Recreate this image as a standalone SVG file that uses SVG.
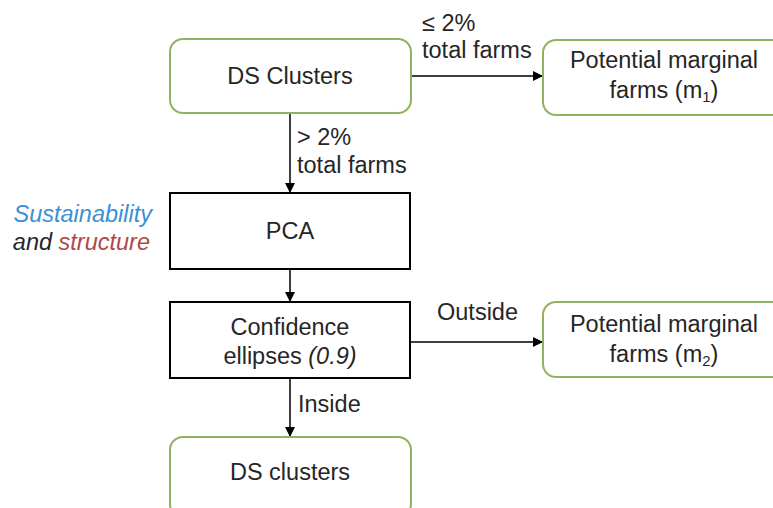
<svg xmlns="http://www.w3.org/2000/svg" width="773" height="508" viewBox="0 0 773 508">
<style>
.t{font-family:"Liberation Sans",Arial,sans-serif;font-size:23.5px;fill:#262626}
.c{text-anchor:middle}
.g{fill:#fff;stroke:#8fb35c;stroke-width:2}
.b{fill:#fff;stroke:#000;stroke-width:2}
.l{stroke:#000;stroke-width:1.5;fill:none}
</style>
<defs>
<marker id="ah" markerWidth="10" markerHeight="10" refX="9" refY="5" orient="auto" markerUnits="userSpaceOnUse">
<path d="M0,0 L10,5 L0,10 Z" fill="#000"/>
</marker>
</defs>
<rect width="773" height="508" fill="#fff"/>
<g id="connectors">
<line class="l" x1="411" y1="76" x2="542" y2="76" marker-end="url(#ah)"/>
<line class="l" x1="290" y1="113" x2="290" y2="192" marker-end="url(#ah)"/>
<line class="l" x1="290" y1="269" x2="290" y2="301" marker-end="url(#ah)"/>
<line class="l" x1="410" y1="342" x2="542" y2="342" marker-end="url(#ah)"/>
<line class="l" x1="290" y1="378" x2="290" y2="436" marker-end="url(#ah)"/>
<text class="t" x="422" y="31">≤ 2%</text>
<text class="t" x="422" y="58">total farms</text>
<text class="t" x="297" y="145">&gt; 2%</text>
<text class="t" x="297" y="173">total farms</text>
<text class="t" x="437" y="320">Outside</text>
<text class="t" x="298" y="412">Inside</text>
</g>
<g id="ds-clusters-top">
<rect class="g" x="170" y="39" width="241" height="74" rx="13"/>
<text class="t c" x="290" y="84">DS Clusters</text>
</g>
<g id="marginal-m1">
<rect class="g" x="543" y="40" width="245" height="75" rx="13"/>
<text class="t c" x="664" y="68">Potential marginal</text>
<text class="t c" x="664" y="98">farms (m<tspan font-size="15" dy="4">1</tspan><tspan dy="-4">)</tspan></text>
</g>
<g id="side-label">
<text class="t" x="152" y="222" text-anchor="end" font-style="italic" style="fill:#3b8fd5">Sustainability</text>
<text class="t" x="150" y="250" text-anchor="end" font-style="italic">and <tspan style="fill:#b04848">structure</tspan></text>
</g>
<g id="pca">
<rect class="b" x="170" y="193" width="240" height="76"/>
<text class="t c" x="290" y="239">PCA</text>
</g>
<g id="confidence">
<rect class="b" x="170" y="302" width="240" height="76"/>
<text class="t c" x="290" y="335">Confidence</text>
<text class="t c" x="290" y="364">ellipses <tspan font-style="italic">(0.9)</tspan></text>
</g>
<g id="marginal-m2">
<rect class="g" x="543" y="302" width="245" height="75" rx="13"/>
<text class="t c" x="664" y="332">Potential marginal</text>
<text class="t c" x="664" y="362">farms (m<tspan font-size="15" dy="4">2</tspan><tspan dy="-4">)</tspan></text>
</g>
<g id="ds-clusters-bottom">
<rect class="g" x="170" y="437" width="241" height="80" rx="13"/>
<text class="t c" x="290" y="480">DS clusters</text>
</g>
</svg>
